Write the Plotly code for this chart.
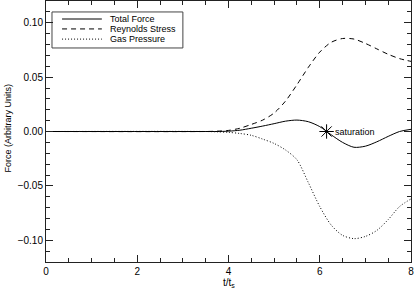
import plotly.graph_objects as go

t = [0.0, 3.5, 3.75, 4.0, 4.25, 4.5, 4.75, 5.0, 5.25, 5.5, 5.75, 6.0, 6.25, 6.5,
     6.75, 7.0, 7.25, 7.5, 7.75, 8.0]
total_force = [0.0, 0.0, 0.0, 0.0003, 0.0012, 0.003, 0.005, 0.0072, 0.0095, 0.0105,
               0.009, 0.0045, -0.003, -0.010, -0.0145, -0.0135, -0.0095, -0.0045,
               0.0, 0.002]
reynolds_stress = [0.0, 0.0, 0.0003, 0.001, 0.003, 0.0065, 0.0105, 0.017, 0.028,
                   0.043, 0.059, 0.073, 0.082, 0.0855, 0.085, 0.081, 0.076, 0.071,
                   0.067, 0.0645]
gas_pressure = [0.0, 0.0, -0.0003, -0.0008, -0.0018, -0.0035, -0.007, -0.011, -0.017,
                -0.026, -0.047, -0.069, -0.086, -0.0955, -0.0985, -0.0965, -0.091,
                -0.081, -0.069, -0.062]
series_names = ["Total Force", "Reynolds Stress", "Gas Pressure"]
saturation_t = [6.15]
saturation_f = [0.0]

FONT = "Liberation Sans"
dashes = ["solid", "5px,4px", "1px,2px"]

fig = go.Figure()
for name, ys, d in zip(series_names, [total_force, reynolds_stress, gas_pressure], dashes):
    fig.add_trace(go.Scatter(x=t, y=ys, mode="lines", name=name, showlegend=False,
                             line=dict(color="black", width=1, dash=d,
                                       shape="spline", smoothing=0.8)))
fig.add_trace(go.Scatter(x=saturation_t, y=saturation_f, mode="markers",
                         marker=dict(symbol="asterisk-open", size=12, color="black",
                                     line=dict(color="black", width=1)),
                         showlegend=False))
fig.add_annotation(x=saturation_t[0], y=saturation_f[0], text="saturation",
                   xanchor="left", yanchor="middle", xshift=6, showarrow=False,
                   font=dict(size=9, color="black", family=FONT))

axis_common = dict(showgrid=False, zeroline=False, showline=True, linecolor="#222",
                   linewidth=1, mirror="ticks", ticks="inside", ticklen=7, tickwidth=1,
                   tickcolor="#222", automargin=False,
                   tickfont=dict(size=10, color="black", family=FONT))

fig.update_xaxes(range=[0, 8], dtick=2, tick0=0,
                 minor=dict(dtick=0.5, ticklen=4, ticks="inside", tickcolor="#222"),
                 **axis_common)
fig.update_yaxes(range=[-0.12, 0.12], dtick=0.05, tick0=0, tickformat=".2f",
                 minor=dict(dtick=0.01, ticklen=4, ticks="inside", tickcolor="#222"),
                 **axis_common)

# axis titles
fig.add_annotation(xref="paper", yref="paper", x=0.5, y=0, yshift=-21,
                   xanchor="center", yanchor="middle", showarrow=False,
                   text="t/t<sub>s</sub>", font=dict(size=10, color="black", family=FONT))
fig.add_annotation(xref="paper", yref="paper", x=0, y=0.5, xshift=-39, yshift=3,
                   xanchor="center", yanchor="middle", showarrow=False, textangle=-90,
                   text="Force (Arbitrary Units)", font=dict(size=9, color="black", family=FONT))

# legend box drawn by hand (compact IDL-style legend)
fig.add_shape(type="rect", xref="paper", yref="paper", x0=0.0164, x1=0.375,
              y0=0.820, y1=0.958, line=dict(color="#444", width=1), fillcolor="white",
              layer="below")
row_y = [0.931, 0.893, 0.854]
for name, d, ry in zip(series_names, dashes, row_y):
    fig.add_shape(type="line", xref="paper", yref="paper", x0=0.044, x1=0.153,
                  y0=ry, y1=ry, line=dict(color="black", width=1, dash=d))
    fig.add_annotation(xref="paper", yref="paper", x=0.170, y=ry, xanchor="left",
                       yanchor="middle", showarrow=False, text=name,
                       font=dict(size=9, color="black", family=FONT))

fig.update_layout(
    width=415, height=289,
    margin=dict(l=46, r=4, t=1, b=27),
    plot_bgcolor="white", paper_bgcolor="white",
    font=dict(family=FONT, color="black"),
    showlegend=False,
)

fig.write_html("out.html", config={"displayModeBar": False},
               post_script="document.body.style.margin='0';document.body.style.overflow='hidden';")
